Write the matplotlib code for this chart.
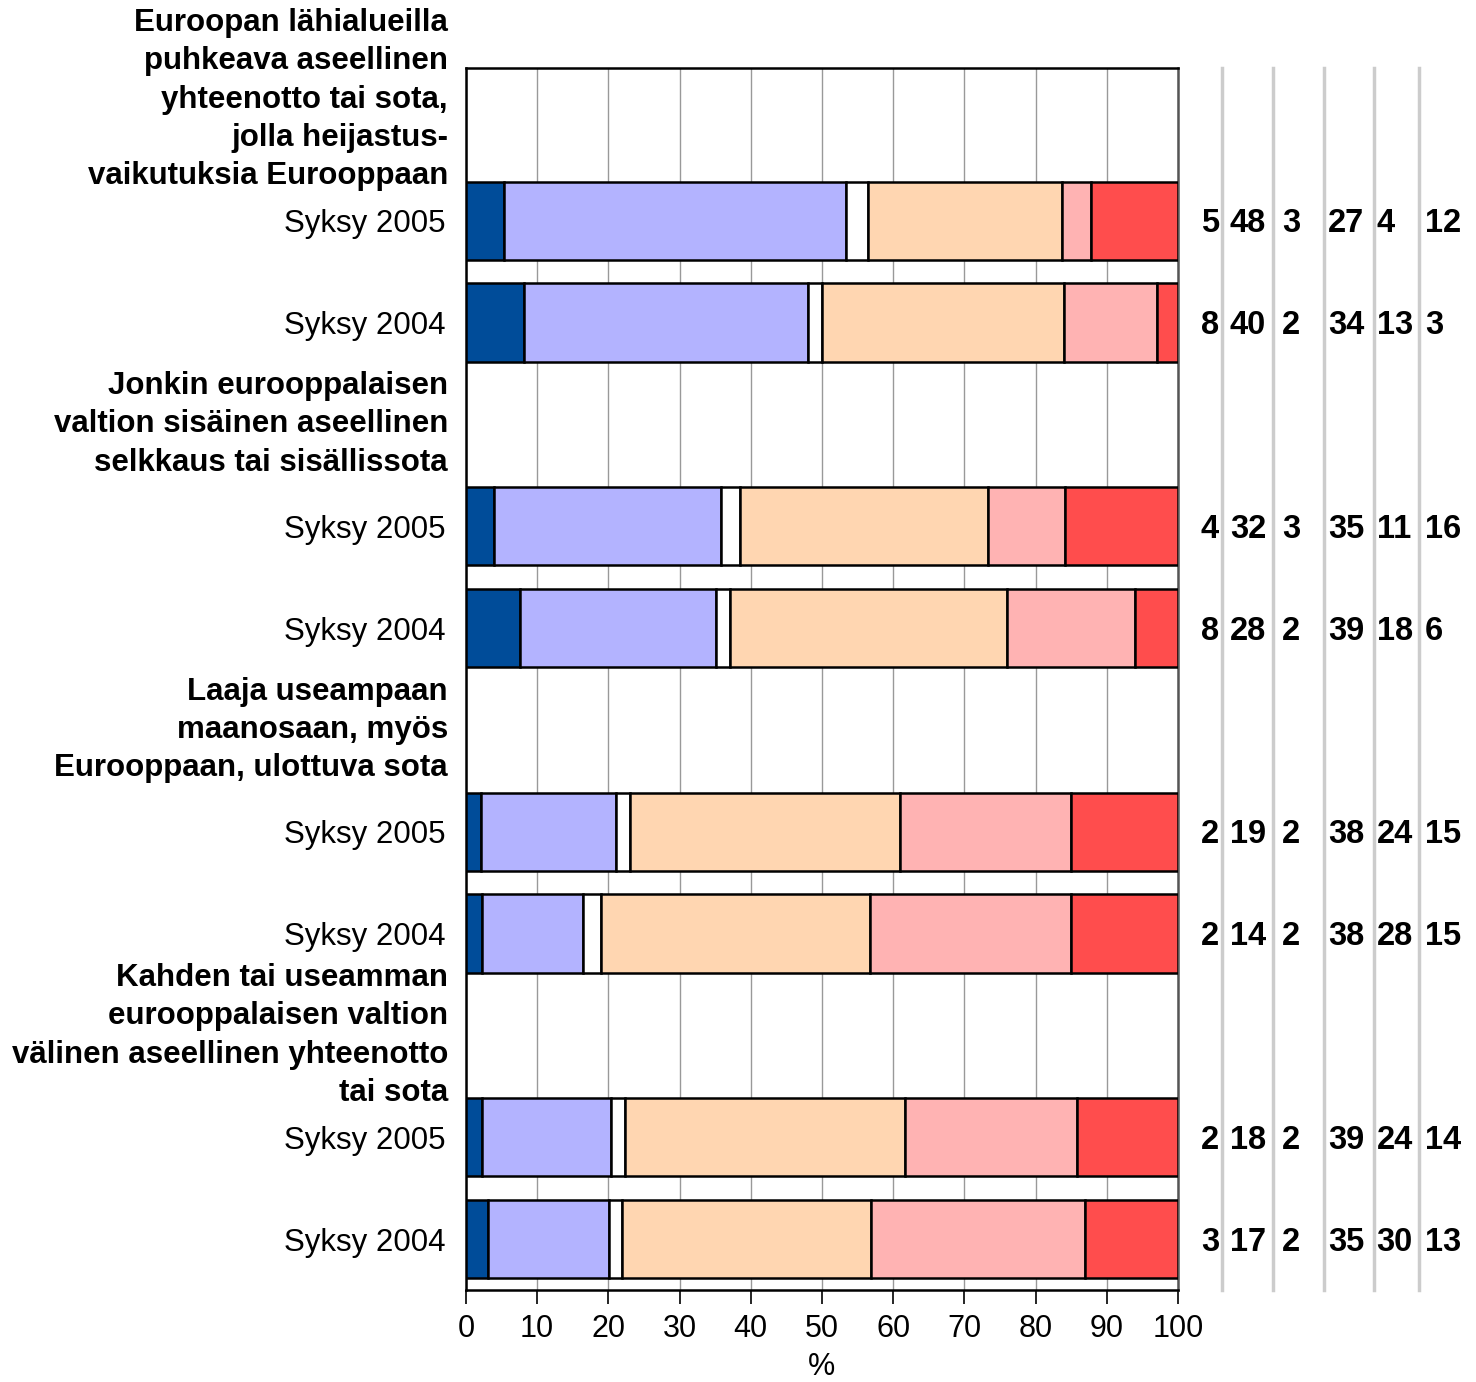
import matplotlib
matplotlib.use('Agg')
import matplotlib.pyplot as plt
import numpy as np

plt.rcParams['font.family'] = ['Liberation Sans', 'DejaVu Sans']


# %%  Data

rows = ['Syksy 2005', 'Syksy 2004'] * 4

headers = [
    'Euroopan lähialueilla\npuhkeava aseellinen\nyhteenotto tai sota,\njolla heijastus-\nvaikutuksia Eurooppaan',
    'Jonkin eurooppalaisen\nvaltion sisäinen aseellinen\nselkkaus tai sisällissota',
    'Laaja useampaan\nmaanosaan, myös\nEurooppaan, ulottuva sota',
    'Kahden tai useamman\neurooppalaisen valtion\nvälinen aseellinen yhteenotto\ntai sota',
]

# segment widths (%)
seg_1 = [5.3, 8.1, 3.9, 7.6, 2.1, 2.2, 2.2, 3.1]
seg_2 = [48.1, 39.9, 31.9, 27.5, 19.0, 14.3, 18.1, 17.0]
seg_3 = [3.1, 2.0, 2.7, 2.0, 2.0, 2.4, 2.1, 1.8]
seg_4 = [27.2, 34.0, 34.8, 38.9, 37.9, 37.9, 39.2, 35.0]
seg_5 = [4.1, 13.0, 10.8, 18.0, 24.0, 28.2, 24.2, 30.1]
seg_6 = [12.2, 3.0, 15.9, 6.0, 15.0, 15.0, 14.2, 13.0]

# rounded numbers printed at the right
lab_1 = [5, 8, 4, 8, 2, 2, 2, 3]
lab_2 = [48, 40, 32, 28, 19, 14, 18, 17]
lab_3 = [3, 2, 3, 2, 2, 2, 2, 2]
lab_4 = [27, 34, 35, 39, 38, 38, 39, 35]
lab_5 = [4, 13, 11, 18, 24, 28, 24, 30]
lab_6 = [12, 3, 16, 6, 15, 15, 14, 13]

xticks = list(range(0, 101, 10))


# %%  Layout

colors = ['#004C99', '#B3B3FF', '#FFFFFF', '#FFD6B1', '#FFB3B3', '#FF4D4D']
bar_slots = [1, 2, 4, 5, 7, 8, 10, 11]
header_slots = [-0.19, 3, 6, 9]
label_x = [103.2, 107.3, 114.6, 121.1, 127.9, 134.7]
sep_x = [106.2, 113.3, 120.5, 127.5, 133.8]

segs = [seg_1, seg_2, seg_3, seg_4, seg_5, seg_6]
labs = [lab_1, lab_2, lab_3, lab_4, lab_5, lab_6]


# %%  Plot

fig = plt.figure(figsize=(14.76, 13.82), dpi=100)
ax = fig.add_axes([0.3157, 0.0666, 0.4824, 0.8842])

left = np.zeros(len(rows))
for vals, c in zip(segs, colors):
    ax.barh(bar_slots, vals, left=left, height=0.77, color=c,
            edgecolor='black', linewidth=1.8, zorder=3)
    left += np.array(vals)

ax.set_xlim(0, 100)
ax.set_ylim(11.5, -0.5)

ax.set_xticks(xticks)
ax.set_xticklabels([str(t) for t in xticks],
                   fontsize=22, family=['Liberation Sans Narrow', 'Liberation Sans'])
ax.tick_params(axis='x', direction='out', length=10, width=1.2, pad=7)
ax.set_xlabel('%', fontsize=22, labelpad=6)

ax.set_yticks(bar_slots)
ax.set_yticklabels(rows, fontsize=22.5)
ax.tick_params(axis='y', length=0, pad=15)

ax.grid(axis='x', color='#999999', linewidth=1, zorder=0)
for s in ax.spines.values():
    s.set_linewidth(1.8)
    s.set_color('black')
ax.spines['right'].set_color('#555555')

# group headers
for txt, y in zip(headers, header_slots):
    ax.annotate(txt, xy=(0, y), xycoords=ax.get_yaxis_transform(),
                xytext=(-18, 0), textcoords='offset pixels',
                ha='right', va='center', fontsize=22.5, fontweight='bold',
                linespacing=1.36)

# numbers on the right
for lx, lab in zip(label_x, labs):
    for y, v in zip(bar_slots, lab):
        ax.text(lx, y + 0.03, str(v), ha='left', va='center', fontsize=23.5,
                fontweight='bold', clip_on=False)

for sx in sep_x:
    ax.plot([sx, sx], [11.5, -0.5], color='#CCCCCC', linewidth=2.5,
            clip_on=False, zorder=1)

fig.savefig('out.png', dpi=100)
